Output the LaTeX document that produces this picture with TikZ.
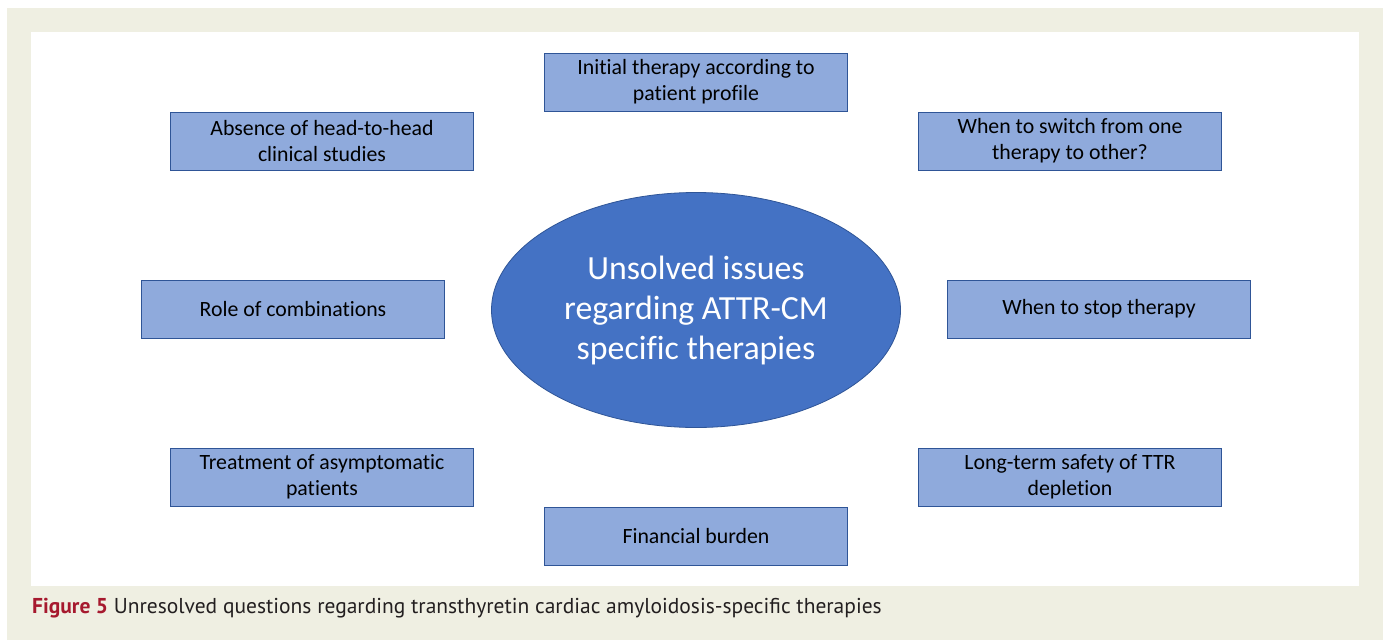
\documentclass[tikz,border=0pt]{standalone}
\usepackage{fontspec}
\setmainfont{Carlito}[Ligatures=NoCommon]
\newfontfamily\captionfont{PT Sans}
\usetikzlibrary{shapes.geometric}
\definecolor{pageBeige}{HTML}{EFEFE2}
\definecolor{issueFill}{HTML}{8FAADC}
\definecolor{issueLine}{HTML}{2F5597}
\definecolor{hubFill}{HTML}{4472C4}
\definecolor{figRed}{HTML}{A6192E}
\definecolor{capText}{HTML}{231F20}
\tikzset{
  issue/.style={draw=issueLine, fill=issueFill, line width=0.8pt,
    minimum width=303pt, minimum height=58pt, inner sep=0pt,
    align=center, font=\fontsize{21.8}{26}\selectfont},
  hub/.style={ellipse, draw=issueLine, fill=hubFill, line width=0.8pt,
    minimum width=409pt, minimum height=235pt, inner sep=0pt,
    align=center, text=white, font=\fontsize{33.8}{40}\selectfont}
}

\begin{document}
\begin{tikzpicture}[x=1pt, y=-1pt]
\useasboundingbox (0,0) rectangle (1386,640);
\fill[white] (0,0) rectangle (1386,640);
\fill[pageBeige] (7,8) rectangle (1383,640);
\fill[white] (31,32) rectangle (1359,586);


\node[hub] (hub) at (696,310) {Unsolved issues\\regarding ATTR-CM\\specific therapies};


\node[issue] (initial) at (696,82) {Initial therapy according to\\patient profile};
\node[issue] (absence) at (322,141) {Absence of head-to-head\\clinical studies};
\node[issue] (switch) at (1070,141) {When to switch from one\\therapy to other?};
\node[issue] (combi) at (293,309) {Role of combinations};
\node[issue] (stop) at (1099,309) {When to stop therapy};
\node[issue] (asympt) at (322,477) {Treatment of asymptomatic\\patients};
\node[issue] (safety) at (1070,477) {Long-term safety of TTR\\depletion};
\node[issue] (burden) at (696,536) {Financial burden};


\node[anchor=base west, inner sep=0pt, text=capText, font=\captionfont\fontsize{21.5}{25}\selectfont] (caption) at (32,613)
  {\textcolor{figRed}{\bfseries Figure 5} Unresolved questions regarding transthyretin cardiac amyloidosis-specific therapies};
\end{tikzpicture}
\end{document}
